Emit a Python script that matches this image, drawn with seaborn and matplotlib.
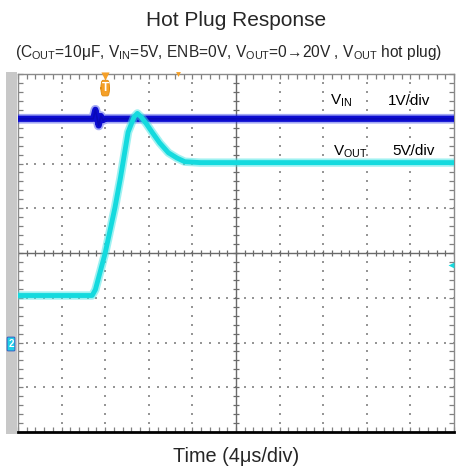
import numpy as np
import pandas as pd
import matplotlib
matplotlib.use("Agg")
import matplotlib.pyplot as plt
from matplotlib.patches import Rectangle, FancyBboxPatch
import seaborn as sns

# ---- waveform readings ----
# time in microseconds relative to the trigger point
time_vin = [-8.0, -1.1, -0.9, -0.6, -0.4, -0.2, 0.0, 32.0]
vin_volts = [5.0, 5.0, 5.2, 4.85, 5.06, 4.97, 5.0, 5.0]

time_vout = [-8.0, -1.2, -0.9, 0.0, 0.9, 1.4, 2.1, 2.65, 2.95, 3.3, 3.8, 4.3,
             5.0, 5.8, 6.6, 7.3, 8.7, 32.0]
vout_volts = [5.25, 5.25, 5.9, 10.0, 15.1, 18.4, 23.5, 25.2, 25.6, 25.2, 24.4, 23.5,
              22.3, 21.2, 20.6, 20.2, 20.1, 20.1]

vin_per_div = 1.0    # V/div
vout_per_div = 5.0   # V/div
time_per_div = 4.0   # us/div

title = "Hot Plug Response"
subtitle = (r"(C$_{\mathrm{OUT}}$=10μF, V$_{\mathrm{IN}}$=5V, ENB=0V, "
            r"V$_{\mathrm{OUT}}$=0→20V , V$_{\mathrm{OUT}}$ hot plug)")
xlabel = "Time (4μs/div)"

sns.set_theme(style="white")
plt.rcParams["font.family"] = ["Liberation Sans", "DejaVu Sans"]
plt.rcParams["mathtext.fontset"] = "custom"
plt.rcParams["mathtext.rm"] = "Liberation Sans"
plt.rcParams["mathtext.it"] = "Liberation Sans"

vin_df = pd.DataFrame({"t": time_vin, "div": np.array(vin_volts) / vin_per_div})
vout_df = pd.DataFrame({"t": time_vout, "div": np.array(vout_volts) / vout_per_div})

W, H = 460, 471
fig = plt.figure(figsize=(W / 100, H / 100), dpi=100)
ax = fig.add_axes([18 / W, 1 - 432 / H, 436 / W, 358 / H])

# traces (VOUT drawn over VIN)
sns.lineplot(data=vin_df, x="t", y="div", ax=ax, color="#3440e8", lw=7.0,
             alpha=0.45, sort=False, estimator=None, zorder=3)
sns.lineplot(data=vin_df, x="t", y="div", ax=ax, color="#0c0cd0", lw=4.5,
             sort=False, estimator=None, zorder=3)
sns.lineplot(data=vin_df, x="t", y="div", ax=ax, color="#0808b8", lw=1.2,
             sort=False, estimator=None, zorder=3)
sns.lineplot(data=vout_df, x="t", y="div", ax=ax, color="#40e4e4", lw=6.0,
             alpha=0.5, sort=False, estimator=None, zorder=4)
sns.lineplot(data=vout_df, x="t", y="div", ax=ax, color="#14dade", lw=3.5,
             sort=False, estimator=None, zorder=4)

x0, x1 = -8.0, 32.0
y0, y1 = -2.0, 6.0
ax.set_xlim(x0, x1)
ax.set_ylim(y0, y1)
ax.set_xlabel("")
ax.set_ylabel("")

# scope graticule: dotted division lines
grid_col = "#969696"
xs_fine = np.arange(x0, x1 + 1e-6, time_per_div / 5)
ys_fine = np.arange(y0, y1 + 1e-6, 0.2)
for gx in np.arange(x0 + time_per_div, x1 - 1e-6, time_per_div):
    if abs(gx - 12.0) < 1e-6:
        continue
    ax.scatter(np.full_like(ys_fine, gx), ys_fine, s=2.6, marker="s", color=grid_col,
               linewidths=0, zorder=2)
for gy in np.arange(y0 + 1, y1 - 1e-6, 1.0):
    if abs(gy - 2.0) < 1e-6:
        continue
    ax.scatter(xs_fine, np.full_like(xs_fine, gy), s=2.6, marker="s", color=grid_col,
               linewidths=0, zorder=2)

# centre cross with fine ticks
ctr_col = "#6a6a6a"
ax.axhline(2.0, color=ctr_col, lw=1.0, zorder=2)
ax.axvline(12.0, color=ctr_col, lw=1.0, zorder=2)
ax.scatter(xs_fine, np.full_like(xs_fine, 2.0), s=16, marker="|", color=ctr_col,
           linewidths=0.9, zorder=2)
ax.scatter(np.full_like(ys_fine, 12.0), ys_fine, s=16, marker="_", color=ctr_col,
           linewidths=0.9, zorder=2)

# frame ticks along the graticule border
ax.set_xticks(np.arange(x0, x1 + 1e-6, time_per_div))
ax.set_yticks(np.arange(y0, y1 + 1e-6, 1.0))
ax.set_xticks(xs_fine, minor=True)
ax.set_yticks(ys_fine, minor=True)
ax.tick_params(which="both", direction="in", length=3.5, width=0.9, color="#808080",
               top=True, right=True, bottom=True, left=True,
               labelbottom=False, labelleft=False, labeltop=False, labelright=False)
ax.grid(False)
for side in ["top", "right", "left"]:
    ax.spines[side].set_visible(True)
    ax.spines[side].set_color("#8a8a8a")
    ax.spines[side].set_linewidth(1.0)
ax.spines["bottom"].set_visible(True)
ax.spines["bottom"].set_color("black")
ax.spines["bottom"].set_linewidth(2.0)

# channel labels
lab_kw = dict(fontsize=11, color="black", va="center", ha="left", zorder=6)
ax.text(20.6, 5.39, r"V$_{\mathrm{IN}}$", **lab_kw)
ax.text(25.9, 5.39, "1V/div", **lab_kw)
ax.text(20.9, 4.27, r"V$_{\mathrm{OUT}}$", **lab_kw)
ax.text(26.3, 4.27, "5V/div", **lab_kw)

# trigger position marker at the top
orange = "#f5a028"
ax.scatter([0.0], [5.96], marker="v", s=34, color=orange, linewidths=0,
           clip_on=False, zorder=7)
tbox = FancyBboxPatch((-0.36, 5.55), 0.72, 0.27,
                      boxstyle="round,pad=0.04,rounding_size=0.2",
                      fc=orange, ec="#e08a10", lw=0.6, zorder=7)
ax.add_patch(tbox)
ax.text(0.0, 5.685, "T", fontsize=8.5, color="white", ha="center", va="center",
        fontweight="bold", zorder=8)
ax.scatter([6.7], [6.0], marker="v", s=12, color=orange, linewidths=0,
           clip_on=False, zorder=7)

# trigger level arrow on the right edge
ax.scatter([31.75], [1.74], marker="<", s=18, color="#18d8dc", linewidths=0,
           clip_on=False, zorder=7)

# left side bar with channel 2 ground marker
fig.patches.append(Rectangle((6 / W, 1 - 434 / H), 11 / W, 362 / H,
                             transform=fig.transFigure, fc="#c8c8c8", ec="none"))
fig.patches.append(FancyBboxPatch((8 / W, 1 - 350 / H), 6 / W, 12 / H,
                                  boxstyle="round,pad=0.002", transform=fig.transFigure,
                                  fc="#20d0e8", ec="#3050c0", lw=0.6))
fig.text(11 / W, 1 - 344 / H, "2", fontsize=7, color="white", ha="center", va="center",
         fontweight="bold")

# titles
fig.text(236 / W, 1 - 20 / H, title, fontsize=15, ha="center", va="center")
fig.text(229 / W, 1 - 52 / H, subtitle, fontsize=11.2, ha="center", va="center")
fig.text(236 / W, 1 - 456 / H, xlabel, fontsize=14.3, ha="center", va="center")

fig.savefig("out.png", dpi=100)
